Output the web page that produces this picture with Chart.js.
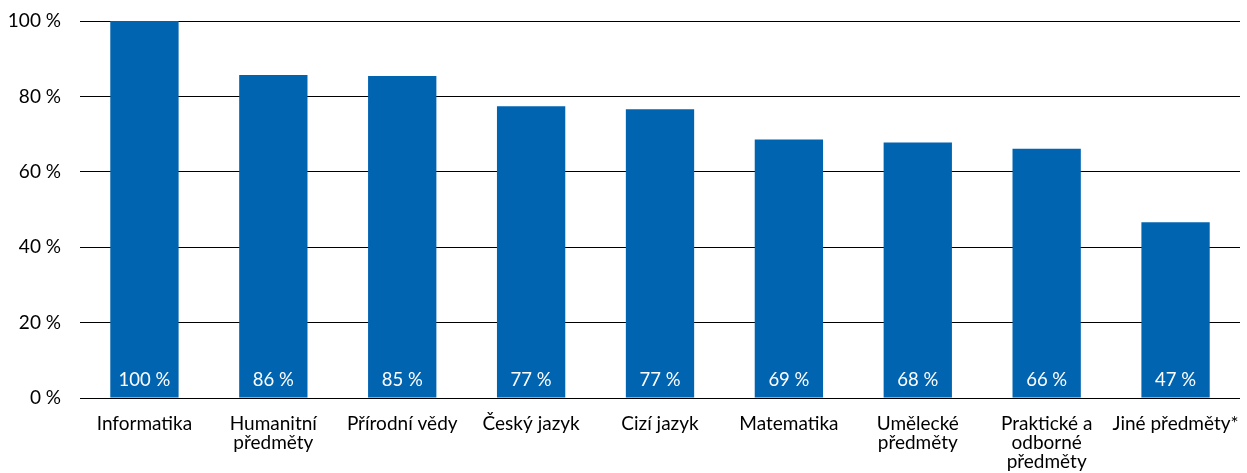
<!DOCTYPE html>
<html>
<head>
<meta charset="utf-8">
<script src="https://cdn.jsdelivr.net/npm/chart.js@4"></script>
<style>
  html, body { margin: 0; padding: 0; background: #fff; }
  #wrap { width: 1247px; height: 473px; }
</style>
</head>
<body>
<div id="wrap"><canvas id="chart"></canvas></div>
<script>
const categories = [
  "Informatika",
  ["Humanitní", "předměty"],
  "Přírodní vědy",
  "Český jazyk",
  "Cizí jazyk",
  "Matematika",
  ["Umělecké", "předměty"],
  ["Praktické a", "odborné", "předměty"],
  "Jiné předměty*"
];
const values = [100, 85.7, 85.4, 77.4, 76.6, 68.6, 67.8, 66.1, 46.6];
const valueLabels = ["100 %", "86 %", "85 %", "77 %", "77 %", "69 %", "68 %", "66 %", "47 %"];
const yTicks = [0, 20, 40, 60, 80, 100];

const fontFamily = "Lato, 'Noto Sans', sans-serif";

// white labels near the bottom of each bar
const barLabels = {
  id: "barLabels",
  afterDatasetsDraw(chart) {
    const ctx = chart.ctx;
    const meta = chart.getDatasetMeta(0);
    const y0 = chart.scales.y.getPixelForValue(0);
    ctx.save();
    ctx.fillStyle = "#fff";
    ctx.font = "18.5px " + fontFamily;
    ctx.textAlign = "center";
    ctx.textBaseline = "middle";
    meta.data.forEach((bar, i) => {
      ctx.fillText(valueLabels[i], bar.x, y0 - 18);
    });
    ctx.restore();
  }
};

new Chart(document.getElementById("chart"), {
  type: "bar",
  data: {
    labels: categories,
    datasets: [{
      data: values,
      backgroundColor: "#0064b1",
      barPercentage: 0.53,
      categoryPercentage: 1.0
    }]
  },
  options: {
    responsive: true,
    maintainAspectRatio: false,
    animation: false,
    layout: { padding: { top: 21, right: 7, left: 0, bottom: 0 } },
    plugins: { legend: { display: false }, tooltip: { enabled: false } },
    scales: {
      x: {
        grid: { display: false, drawTicks: false },
        border: { display: false },
        ticks: { color: "#000", font: { family: fontFamily, size: 19, lineHeight: 1.0 }, padding: 16, maxRotation: 0, autoSkip: false },
        afterFit(scale) {
          scale.height = 75;
          scale.paddingLeft = 0;
          scale.paddingRight = 0;
        }
      },
      y: {
        min: 0,
        max: 100,
        afterBuildTicks(scale) { scale.ticks = yTicks.map(v => ({ value: v })); },
        grid: { color: "#000", lineWidth: 1, drawTicks: false },
        border: { display: false },
        ticks: {
          color: "#000",
          font: { family: fontFamily, size: 19 },
          padding: 19,
          callback: v => v + " %"
        },
        afterFit(scale) {
          scale.width = 80;
          scale.paddingTop = 0;
          scale.paddingBottom = 0;
        }
      }
    }
  },
  plugins: [barLabels]
});
</script>
</body>
</html>
